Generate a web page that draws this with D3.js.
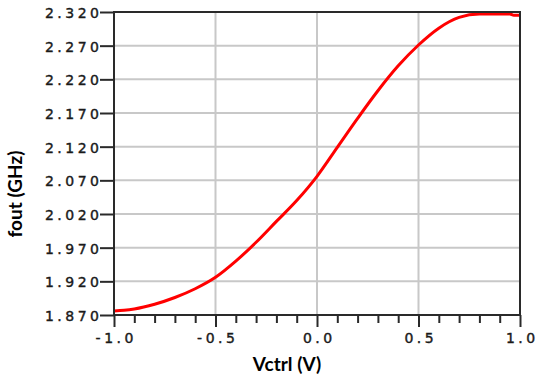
<!DOCTYPE html>
<html>
<head>
<meta charset="utf-8">
<script src="https://cdn.jsdelivr.net/npm/d3@7"></script>
<style>
  body { margin: 0; background: #fff; }
  svg { display: block; }
</style>
</head>
<body>
<svg></svg>
<script>
// values
const vctrl = [-1.0, -0.95, -0.9, -0.8, -0.7, -0.6, -0.5, -0.4, -0.3, -0.2, -0.1,
               0.0, 0.1, 0.2, 0.3, 0.4, 0.5, 0.6, 0.7, 0.8, 0.9, 0.95, 0.97, 1.0];
const fout = [1.876, 1.877, 1.879, 1.886, 1.896, 1.909, 1.926, 1.950, 1.978, 2.009, 2.040,
              2.076, 2.119, 2.162, 2.203, 2.240, 2.271, 2.296, 2.312, 2.317, 2.317, 2.317, 2.315, 2.315];
const yTicks = [1.870, 1.920, 1.970, 2.020, 2.070, 2.120, 2.170, 2.220, 2.270, 2.320];
const xTicks = [-1.0, -0.5, 0.0, 0.5, 1.0];
const xMinor = [-0.9, -0.8, -0.7, -0.6, -0.4, -0.3, -0.2, -0.1,
                0.1, 0.2, 0.3, 0.4, 0.6, 0.7, 0.8, 0.9];

const size = {w: 550, h: 385};
const plot = {l: 114, r: 520, t: 12, b: 315};
const svg = d3.select('svg')
    .attr('width', size.w)
    .attr('height', size.h);

const x = d3.scaleLinear().domain([-1, 1]).range([plot.l, plot.r]);
const y = d3.scaleLinear().domain([1.870, 2.320]).range([plot.b, plot.t]);

// grid lines
const gridG = svg.append('g').attr('stroke', '#c8c8c8').attr('stroke-width', 2);
gridG.selectAll('line.h')
    .data(yTicks.slice(1, -1))
    .join('line')
    .attr('x1', plot.l).attr('x2', plot.r)
    .attr('y1', d => y(d)).attr('y2', d => y(d));
gridG.selectAll('line.v')
    .data(xTicks.slice(1, -1))
    .join('line')
    .attr('class', 'v')
    .attr('x1', d => x(d)).attr('x2', d => x(d))
    .attr('y1', plot.t).attr('y2', plot.b);

// curve
const line = d3.line()
    .x((d, i) => x(vctrl[i]))
    .y(d => y(d))
    .curve(d3.curveMonotoneX);
svg.append('path')
    .datum(fout)
    .attr('d', line)
    .attr('fill', 'none')
    .attr('stroke', '#ff0000')
    .attr('stroke-width', 3);

// frame
svg.append('rect')
    .attr('x', plot.l).attr('y', plot.t)
    .attr('width', plot.r - plot.l).attr('height', plot.b - plot.t)
    .attr('fill', 'none')
    .attr('stroke', '#2a2a2a')
    .attr('stroke-width', 2);

// y axis
const yAxis = d3.axisLeft(y)
    .tickValues(yTicks)
    .tickSize(14)
    .tickPadding(1)
    .tickFormat(d3.format('.3f'));
const yG = svg.append('g')
    .attr('transform', `translate(${plot.l},0)`)
    .call(yAxis);

// x axis, major and minor ticks
const xAxis = d3.axisBottom(x)
    .tickValues(xTicks)
    .tickSize(12)
    .tickPadding(6)
    .tickFormat(d => d3.format('.1f')(d).replace('−', '-'));
const xG = svg.append('g')
    .attr('transform', `translate(0,${plot.b})`)
    .call(xAxis);
const xMinorG = svg.append('g')
    .attr('transform', `translate(0,${plot.b})`)
    .call(d3.axisBottom(x).tickValues(xMinor).tickSize(8).tickFormat(''));

[yG, xG, xMinorG].forEach(g => {
    g.select('.domain').remove();
    g.selectAll('.tick line').attr('stroke', '#2a2a2a').attr('stroke-width', 2);
    g.selectAll('.tick text')
        .attr('fill', '#1a1a1a')
        .attr('stroke', '#1a1a1a')
        .attr('stroke-width', 0.4)
        .style('font-family', 'DejaVu Sans')
        .style('font-size', '14px')
        .style('letter-spacing', '3.5px');
});
yG.selectAll('.tick text').attr('dx', '3.5px').attr('dy', '0.4em');
xG.selectAll('.tick text').attr('dx', '1.75px');

// axis titles
svg.append('text')
    .attr('x', 287).attr('y', 371)
    .attr('text-anchor', 'middle')
    .style('font-family', 'Lato')
    .style('font-weight', 'bold')
    .style('font-size', '19px')
    .text('Vctrl (V)');

svg.append('text')
    .attr('transform', 'translate(22,194) rotate(-90)')
    .attr('text-anchor', 'middle')
    .style('font-family', 'Lato')
    .style('font-weight', 'bold')
    .style('font-size', '19px')
    .text('fout (GHz)');
</script>
</body>
</html>
